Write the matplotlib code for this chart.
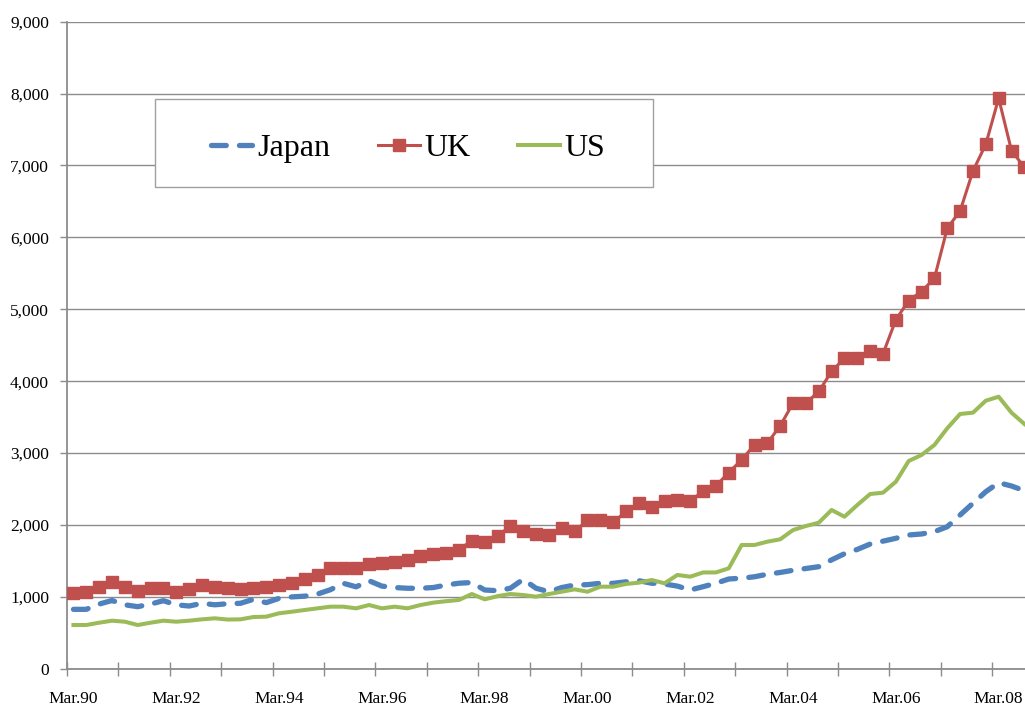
import matplotlib.pyplot as plt
from matplotlib.patches import Rectangle
from matplotlib.ticker import FuncFormatter, MultipleLocator

# quarterly values, Mar.90 .. Sep.08
japan = [827, 827, 900, 950, 890, 864, 900, 947, 890, 873,
         911, 890, 905, 911, 966, 920, 980, 1000, 1010, 1040,
         1100, 1189, 1140, 1225, 1150, 1130, 1120, 1120, 1130, 1165,
         1190, 1200, 1096, 1086, 1120, 1245, 1120, 1072, 1130, 1165,
         1170, 1189, 1189, 1210, 1225, 1190, 1179, 1150, 1096, 1142,
         1190, 1249, 1260, 1280, 1315, 1340, 1370, 1395, 1420, 1515,
         1600, 1660, 1735, 1775, 1815, 1861, 1875, 1907, 1976, 2139,
         2302, 2463, 2588, 2542, 2477]
uk = [1050, 1072, 1142, 1211, 1142, 1086, 1119, 1119, 1072, 1105,
      1165, 1133, 1119, 1105, 1119, 1133, 1165, 1198, 1245, 1305,
      1405, 1405, 1405, 1460, 1470, 1492, 1510, 1572, 1590, 1610,
      1655, 1784, 1770, 1840, 1989, 1919, 1878, 1864, 1957, 1910,
      2063, 2072, 2035, 2188, 2305, 2249, 2327, 2350, 2340, 2466,
      2545, 2730, 2907, 3115, 3139, 3380, 3695, 3695, 3857, 4135,
      4321, 4321, 4413, 4381, 4854, 5122, 5247, 5431, 6127, 6367,
      6923, 7295, 7935, 7206, 6975]
us = [609, 609, 641, 669, 655, 609, 641, 669, 655, 669,
      688, 702, 685, 688, 720, 725, 772, 794, 818, 841,
      864, 864, 841, 887, 841, 864, 841, 887, 920, 940,
      957, 1040, 966, 1010, 1040, 1026, 1003, 1040, 1072, 1105,
      1072, 1142, 1142, 1180, 1198, 1235, 1189, 1305, 1281, 1340,
      1340, 1398, 1722, 1722, 1768, 1801, 1930, 1986, 2032, 2209,
      2115, 2278, 2431, 2449, 2602, 2890, 2974, 3113, 3345, 3544,
      3562, 3729, 3784, 3562, 3405]
tick_labels = ["Mar.90", "Mar.92", "Mar.94", "Mar.96", "Mar.98",
               "Mar.00", "Mar.02", "Mar.04", "Mar.06", "Mar.08"]

plt.rcParams['font.family'] = ['Liberation Serif', 'DejaVu Serif']

fig = plt.figure(figsize=(10.25, 7.06), dpi=100)
ax = fig.add_axes([0.0654, 0.0527, 0.9346, 0.9166])

x = list(range(len(uk)))
ax.plot(x, japan, color='#4F81BD', lw=3.8, ls=(0, (2.8, 2.5)),
        dash_capstyle='round', label='Japan', zorder=3)
ax.plot(x, uk, color='#C0504D', lw=2.2, marker='s', markersize=9,
        label='UK', zorder=4)
ax.plot(x, us, color='#9BBB59', lw=2.9, label='US', zorder=3)

ax.set_xlim(-0.5, 74.05)
ax.set_ylim(0, 9000)
ax.yaxis.set_major_locator(MultipleLocator(1000))
ax.yaxis.set_major_formatter(FuncFormatter(lambda v, p: f"{int(v):,}"))
ax.grid(axis='y', color='#8c8c8c', lw=1.0)
ax.set_axisbelow(True)

# year ticks between categories, labels every two years
ax.set_xticks([i - 0.5 for i in range(0, 75, 4)])
ax.set_xticks(list(range(0, 80, 8)), minor=True)
ax.set_xticklabels([])
ax.set_xticklabels(tick_labels, minor=True)
ax.tick_params(axis='x', which='major', direction='inout', length=10,
               width=1, color='#8c8c8c')
ax.tick_params(axis='x', which='minor', length=0, pad=16, labelsize=12.5)
ax.tick_params(axis='y', direction='out', length=5, width=1,
               color='#8c8c8c', pad=8, labelsize=12.5)

for s in ['top', 'right']:
    ax.spines[s].set_visible(False)
for s in ['left', 'bottom']:
    ax.spines[s].set_color('#8c8c8c')
    ax.spines[s].set_linewidth(1.3)

# legend box drawn separately, entries centred in it
box = (0.092, 0.745, 0.52, 0.136)
ax.add_patch(Rectangle(box[:2], box[2], box[3], transform=ax.transAxes,
                       facecolor='white', edgecolor='#a0a0a0', lw=1.0,
                       zorder=5))
leg = ax.legend(ncol=3, loc='center', bbox_to_anchor=(0.096, 0.736, 0.52, 0.136),
                fontsize=23, frameon=False, handlelength=1.3,
                handletextpad=0.15, columnspacing=1.5, borderpad=0)
leg.set_zorder(6)

plt.savefig('out.png', dpi=100)
